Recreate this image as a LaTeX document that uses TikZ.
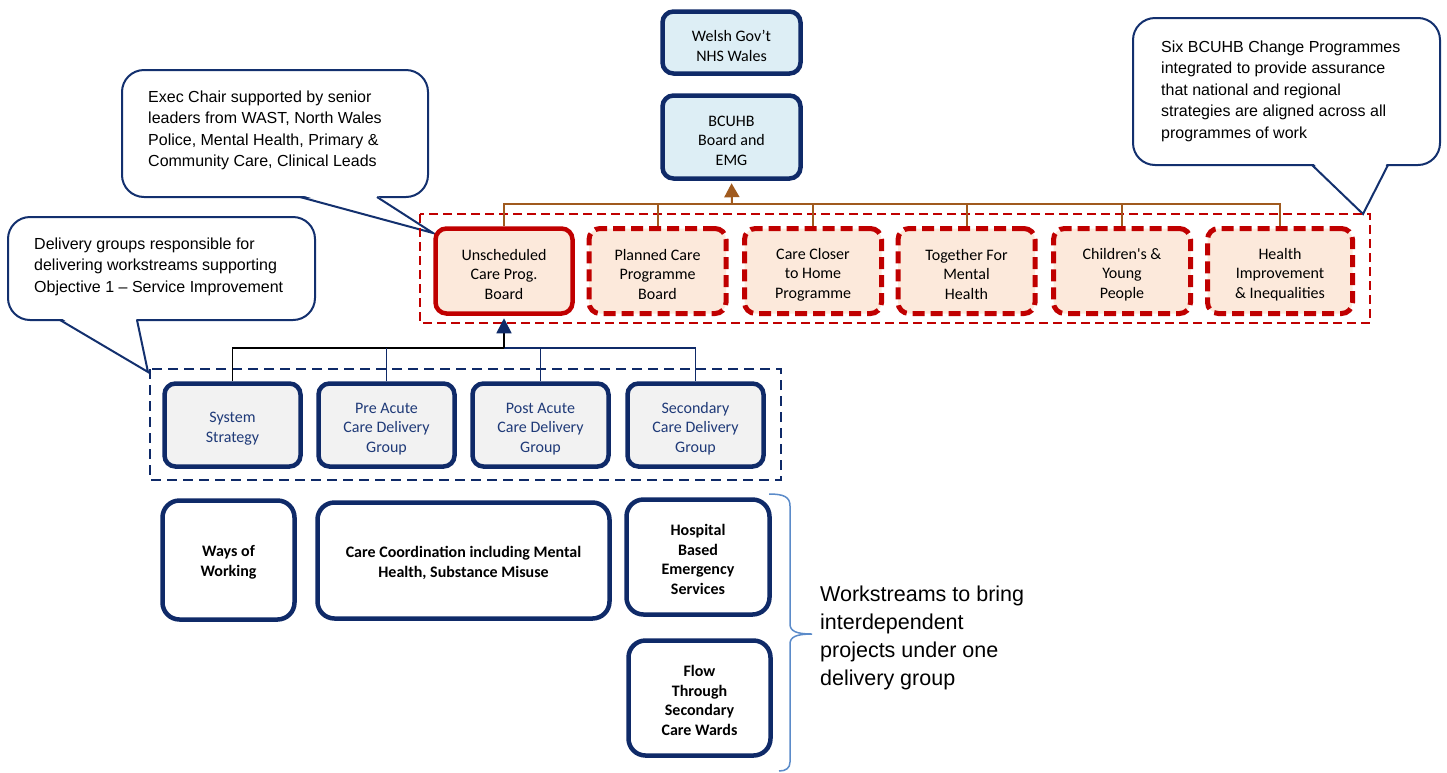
\documentclass[tikz,border=0pt]{standalone}
\usepackage{fontspec}
\setmainfont{Carlito}
\newfontfamily\arialf{Liberation Sans}
\usetikzlibrary{arrows.meta}
\definecolor{navy}{HTML}{0F2A68}
\definecolor{lblue}{HTML}{DDEEF5}
\definecolor{peach}{HTML}{FCE9DB}
\definecolor{bred}{HTML}{C00000}
\definecolor{brownc}{HTML}{A05A1E}
\definecolor{grayf}{HTML}{F2F2F2}
\definecolor{dtext}{HTML}{1F3A78}
\definecolor{bracec}{HTML}{5B8BC9}
\definecolor{cnavy}{HTML}{13306E}
\newcommand\tstr{\rule{0pt}{18pt}}
\newcommand\wstr{\rule{0pt}{16pt}}
\tikzset{
  box/.style={rounded corners=11pt, line width=4.5pt, align=center, inner sep=0pt,
    font=\fontsize{16}{19.5}\selectfont},
  topbox/.style={box, draw=navy, fill=lblue, minimum width=138pt},
  progsolid/.style={box, draw=bred, fill=peach, minimum width=137pt, minimum height=85pt},
  progdash/.style={progsolid, line width=5pt, dash pattern=on 12pt off 6pt},
  delbox/.style={box, draw=navy, fill=grayf, text=dtext, minimum width=136pt, minimum height=83pt},
  wsbox/.style={box, rounded corners=17pt, draw=navy, fill=white,
    font=\fontsize{16}{19.5}\selectfont\bfseries},
  callout/.style={draw=cnavy, line width=2pt, fill=white, rounded corners=22pt},
  tailline/.style={draw=cnavy, line width=2pt, line join=miter},
  ctext/.style={font=\arialf\fontsize{16}{21.5}\selectfont, align=left, anchor=west, inner sep=0pt},
  brownl/.style={draw=brownc, line width=2pt},
  redframe/.style={draw=bred, line width=2.5pt, dash pattern=on 9pt off 5pt},
  navyframe/.style={draw=navy, line width=2.5pt, dash pattern=on 10pt off 6pt},
}
\begin{document}
\begin{tikzpicture}[x=1pt,y=-1pt]
\useasboundingbox (0,0) rectangle (1447,772);

% callouts
\draw[callout] (122,70) rectangle (428,197);
\fill[white] (301,195) -- (433,233) -- (376,195) -- cycle;
\draw[tailline] (300,197) -- (433,233) -- (377,197);
\node[ctext] (c1) at (148,130.5) {Exec Chair supported by senior\\leaders from WAST, North Wales\\Police, Mental Health, Primary \&\\Community Care, Clinical Leads};

\draw[callout] (8,217) rectangle (315,320);
\fill[white] (61,318) -- (148,372) -- (136,318) -- cycle;
\draw[tailline] (60,320) -- (148,372) -- (137,320);
\node[ctext] (c2) at (34,266.5) {Delivery groups responsible for\\delivering workstreams supporting\\Objective 1 – Service Improvement};

\draw[callout] (1133,18) rectangle (1440,165);
\fill[white] (1313,163) -- (1363,214) -- (1387,163) -- cycle;
\draw[tailline] (1312,165) -- (1363,214) -- (1388,165);
\node[ctext] (c3) at (1161,91) {Six BCUHB Change Programmes\\integrated to provide assurance\\that national and regional\\strategies are aligned across all\\programmes of work};

% frames
\draw[redframe] (420,214) rectangle (1370,323);
\draw[navyframe] (150,369) rectangle (781,480);

% nodes
\node[topbox, minimum height=62pt] (wg) at (731.5,42.5) {\tstr Welsh Gov’t\\NHS Wales};
\node[topbox, minimum height=83pt] (bc) at (731.5,137) {\tstr BCUHB\\Board and\\EMG};

\coordinate (bj) at (732,204);
\coordinate (dj) at (504,348);

\node[progsolid] (p1) at (504,271) {\tstr Unscheduled\\Care Prog.\\Board};
\node[progdash] (p2) at (657.5,271) {\tstr Planned Care\\Programme\\Board};
\node[progdash] (p3) at (813,271) {\tstr Care Closer\\to Home\\Programme};
\node[progdash] (p4) at (966.5,271) {\tstr Together For\\Mental\\Health};
\node[progdash] (p5) at (1122,271) {\tstr Children\textquotesingle s \&\\Young\\People};
\node[progdash, minimum width=145pt] (p6) at (1280,271) {\tstr Health\\Improvement\\\& Inequalities};

\node[delbox] (d1) at (232.5,425) {\tstr System\\Strategy};
\node[delbox] (d2) at (386.5,425) {\tstr Pre Acute\\Care Delivery\\Group};
\node[delbox] (d3) at (540.5,425) {\tstr Post Acute\\Care Delivery\\Group};
\node[delbox] (d4) at (695.5,425) {\tstr Secondary\\Care Delivery\\Group};

\node[wsbox, minimum width=132pt, minimum height=119pt] (w1) at (228.5,560) {\wstr Ways of\\Working};
\node[wsbox, minimum width=292pt, minimum height=116pt] (w2) at (463.5,560.5) {\wstr Care Coordination including Mental\\Health, Substance Misuse};
\node[wsbox, minimum width=143pt, minimum height=115pt] (w3) at (698,557) {\wstr Hospital\\Based\\Emergency\\Services};
\node[wsbox, minimum width=142pt, minimum height=115pt] (w4) at (699.5,698) {\wstr Flow\\Through\\Secondary\\Care Wards};

% brown connectors
\draw[brownl] (p1.north) -- (p1.north |- bj) -- (p6.north |- bj) -- (p6.north);
\draw[brownl] (p2.north) -- (p2.north |- bj);
\draw[brownl] (p3.north) -- (p3.north |- bj);
\draw[brownl] (p4.north) -- (p4.north |- bj);
\draw[brownl] (p5.north) -- (p5.north |- bj);
\draw[brownl, -{Triangle[width=15pt,length=14pt]}, shorten >=2.5pt] (bj) -- (bc.south);

% delivery connectors
\draw[line width=1.6pt, black] (d1.north) -- (d1.north |- dj) -- (dj);
\draw[line width=1.6pt, navy] (dj) -- (d4.north |- dj) -- (d4.north);
\draw[line width=1.6pt, navy] (d2.north) -- (d2.north |- dj);
\draw[line width=1.6pt, navy] (d3.north) -- (d3.north |- dj);
\draw[line width=1.6pt, black, -{Triangle[width=15pt,length=15pt,color=navy]}, shorten >=2.5pt] (dj) -- (p1.south);

% brace
\draw[bracec, line width=1.5pt] (769,494) .. controls (784,494) and (790,497) .. (790,506)
  -- (790,624) .. controls (790,631) and (796,634) .. (812,634)
  .. controls (796,634) and (790,637) .. (790,644)
  -- (790,762) .. controls (790,768) and (786,771) .. (779,771);
\node[font=\arialf\fontsize{21.5}{28}\selectfont, align=left, anchor=west, inner sep=0pt] (wt) at (820,637.5)
  {Workstreams to bring\\interdependent\\projects under one\\delivery group};
\end{tikzpicture}
\end{document}
